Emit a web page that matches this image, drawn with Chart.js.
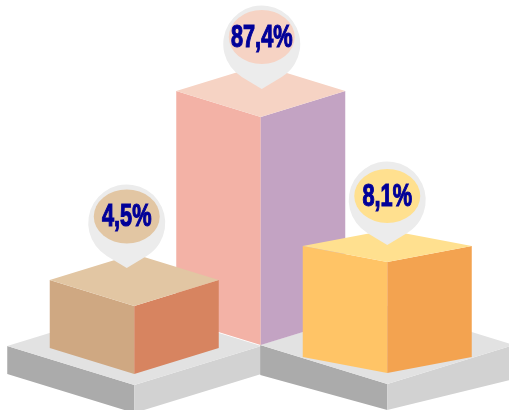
<!DOCTYPE html>
<html>
<head>
<meta charset="utf-8">
<style>html,body{margin:0;padding:0;background:#fff}canvas{display:block}</style>
<script src="https://cdn.jsdelivr.net/npm/chart.js@4"></script>
</head>
<body>
<canvas id="c" width="509" height="410"></canvas>
<script>
// Data. The box heights in the source are decorative and
// not proportional to the shares, so they are kept as their own series.
const categories = ['A', 'B', 'C'];
const shares = [4.5, 87.4, 8.1];
const boxFloors = [36, 65, 37];
const boxHeights = [68, 228, 111];
const pinTips = [142, 321, 165];

// Styles and decoration geometry
const S = {
  boxHalf: 84.5,
  tilt: [26, 26, 16],
  faces: [
    {top:'#E2C6A3', left:'#CFA882', right:'#D78460'},
    {top:'#F6D3C4', left:'#F3B2A6', right:'#C3A3C3'},
    {top:'#FFE08F', left:'#FFC466', right:'#F3A350'}
  ],
  plate: {half:127, tilt:39, drop:11, top:'#E2E2E2', left:'#ABABAB', right:'#D2D2D2',
          depths:{0:[28,28,28], 2:[30,26,34]}},
  pin: {color:'#ECECEC', r:38.5, dist:45, dx:[-7.5, 1, 0], rx:33, ry:27, lift:[6.5, 7, 4], text:'#000099'}
};

function poly(ctx, color, pts){
  ctx.fillStyle = color;
  ctx.beginPath();
  pts.forEach((p, i) => i ? ctx.lineTo(p[0], p[1]) : ctx.moveTo(p[0], p[1]));
  ctx.closePath();
  ctx.fill();
}
function drawPlate(ctx, bar, i){
  const P = S.plate, x = bar.x, f = bar.base + P.drop, h = P.half, t = P.tilt, d = P.depths[i];
  poly(ctx, P.left,  [[x-h,f-t],[x,f],[x,f+d[1]],[x-h,f-t+d[0]]]);
  poly(ctx, P.right, [[x,f],[x+h,f-t],[x+h,f-t+d[2]],[x,f+d[1]]]);
  poly(ctx, P.top,   [[x-h,f-t],[x,f],[x+h,f-t],[x,f-2*t]]);
}
function drawBox(ctx, bar, i){
  const x = bar.x, w = bar.width/2, yt = bar.y, yb = bar.base, t = S.tilt[i], c = S.faces[i];
  poly(ctx, c.left,  [[x-w,yt-t],[x,yt],[x,yb],[x-w,yb-t]]);
  poly(ctx, c.right, [[x,yt],[x+w,yt-t],[x+w,yb-t],[x,yb]]);
  poly(ctx, c.top,   [[x-w,yt-t],[x,yt],[x+w,yt-t],[x,yt-2*t]]);
}
function drawPin(ctx, pt, i, label){
  const P = S.pin, tx = pt.x + P.dx[i], ty = pt.y, cy = ty - P.dist;
  const a = Math.acos(P.r / P.dist);
  ctx.fillStyle = P.color;
  ctx.beginPath();
  ctx.moveTo(tx, ty);
  ctx.arc(tx, cy, P.r, Math.PI/2 + a, Math.PI/2 - a);
  ctx.closePath();
  ctx.fill();
  const ey = cy - P.lift[i];
  ctx.fillStyle = S.faces[i].top;
  ctx.beginPath();
  ctx.ellipse(tx, ey, P.rx, P.ry, 0, 0, Math.PI*2);
  ctx.fill();
  ctx.save();
  ctx.translate(tx, ey);
  ctx.scale(0.7, 1);
  ctx.font = 'bold 31px "Liberation Sans"';
  ctx.textAlign = 'center';
  ctx.textBaseline = 'middle';
  ctx.fillStyle = P.text;
  ctx.strokeStyle = P.text;
  ctx.lineWidth = 1.2;
  ctx.fillText(label, 0, 1);
  ctx.strokeText(label, 0, 1);
  ctx.restore();
}

const boxes3d = {
  id: 'boxes3d',
  beforeDatasetsDraw(chart){
    const ctx = chart.ctx, bars = chart.getDatasetMeta(0).data, pins = chart.getDatasetMeta(1).data;
    ctx.save();
    drawPlate(ctx, bars[0], 0);
    drawPlate(ctx, bars[2], 2);
    [1, 0, 2].forEach(i => drawBox(ctx, bars[i], i));
    [1, 0, 2].forEach(i => drawPin(ctx, pins[i], i, shares[i].toFixed(1).replace('.', ',') + '%'));
    ctx.restore();
  }
};

new Chart(document.getElementById('c'), {
  data: {
    labels: categories,
    datasets: [
      {type:'bar', label:'Box', data: boxFloors.map((f, i) => [f, f + boxHeights[i]]),
       backgroundColor:'rgba(0,0,0,0)', borderWidth:0, barThickness: S.boxHalf*2, order:2},
      {type:'line', label:'Pin', data: pinTips, showLine:false, pointRadius:0, order:1}
    ]
  },
  options: {
    responsive:false, animation:false, devicePixelRatio:1,
    layout:{padding:{left:71, right:58.5, top:0, bottom:0}},
    plugins:{legend:{display:false}, tooltip:{enabled:false}, title:{display:false}},
    scales:{
      x:{display:false, type:'category', offset:true, grid:{display:false}},
      y:{display:false, min:0, max:410, grid:{display:false}}
    }
  },
  plugins:[boxes3d]
});
</script>
</body>
</html>
